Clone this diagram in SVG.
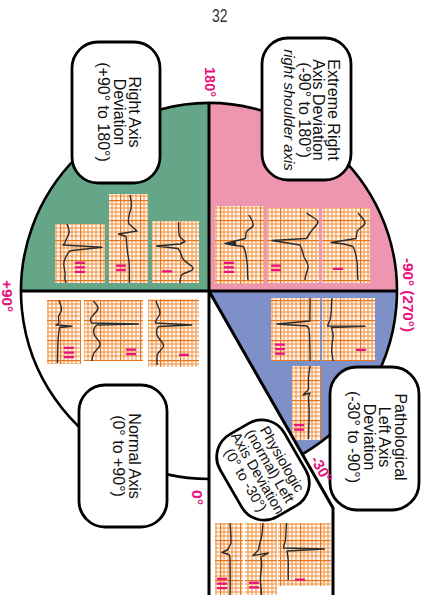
<svg xmlns="http://www.w3.org/2000/svg" width="437" height="595" viewBox="0 0 437 595">
<defs>
<pattern id="grid" width="20" height="20" patternUnits="userSpaceOnUse">
<rect width="20" height="20" fill="#fff7ef"/>
<path d="M4,0V20M8,0V20M12,0V20M16,0V20M0,4H20M0,8H20M0,12H20M0,16H20" stroke="#f0903c" stroke-width="1"/>
<path d="M0.5,0V20M0,0.5H20" stroke="#e9751a" stroke-width="1.4"/>
</pattern>
<style>
.strip{fill:url(#grid)}
.trace{fill:none;stroke:#2a2a2a;stroke-width:1.4;stroke-linejoin:round}
.lead{font-family:"Liberation Sans",Arial,sans-serif;font-weight:bold;font-size:15px;fill:#e8137e;letter-spacing:0.4px;text-anchor:middle}
.box{fill:#fff;stroke:#000;stroke-width:2.8}
.bt{font-family:"Liberation Sans",Arial,sans-serif;font-size:16px;fill:#111;text-anchor:middle}
.ang{font-family:"Liberation Sans",Arial,sans-serif;font-weight:bold;font-size:15px;fill:#e8137e}
.line{fill:none;stroke:#000;stroke-width:3}
</style>
</defs>
<rect width="437" height="595" fill="#fff"/>
<text x="212" y="21.5" font-family="'Liberation Sans',Arial,sans-serif" font-size="18" fill="#333" textLength="15.5" lengthAdjust="spacingAndGlyphs">32</text>

<g id="sectors">
<path d="M209,291 L21,291 A188,188 0 0 1 209,103 Z" fill="#65a689"/>
<path d="M209,291 L209,103 A188,188 0 0 1 397,291 Z" fill="#ee96b0"/>
<path d="M209,291 L397,291 A188,188 0 0 1 303,453.8 Z" fill="#7e90c8"/>
</g>

<g id="strips">
<g id="g1"><rect class="strip" x="55" y="224" width="50" height="59"/>
<path class="trace" d="M67,224 C68,228 70,230 69,233 C68,237 65,240 65,243 L63,245 L102,247.3 L70,250.7 C66,255 65,258 64,262 C63,267 66,272 65,276 C64,279 66,281 66,283"/>
<text class="lead" transform="translate(74.5,267.5) rotate(90)">III</text></g>
<g id="g2"><rect class="strip" x="109" y="194" width="39" height="89"/>
<path class="trace" d="M130,195 C131,200 132,204 131,208 C130,213 127,218 129,224 L137,231 L118.5,234 L126,236.5 C127,245 127,252 128.5,258 C130,266 129,275 129.5,283"/>
<text class="lead" transform="translate(115.6,268) rotate(90)">II</text></g>
<g id="g3"><rect class="strip" x="152" y="221" width="47" height="62"/>
<path class="trace" d="M178.5,222 C179,228 178,233 180,237 L185,241.5 L180,244 L156.5,246 L178,248.5 C181,252 181,255 183,259 C187,264 194,266 193,269 C192,272 183,272 181,276 C180,279 180,281 180,283"/>
<text class="lead" transform="translate(162.3,271.5) rotate(90)">I</text></g>

<g id="p1"><rect class="strip" x="215" y="206" width="49" height="78"/>
<path class="trace" d="M249,215 C251,219 254,222 253,226 C251,229 246,230 246,233 L245.5,238.5 L225,243.5 L232,245 L243,246.5 C246,250 246,256 247,262 C248,268 247,274 248,280"/>
<path d="M226,243.5 L236,241.5 L236,246 Z" fill="#2a2a2a"/>
<text class="lead" transform="translate(224.3,267.5) rotate(90)">III</text></g>
<g id="p2"><rect class="strip" x="267" y="208" width="52" height="75"/>
<path class="trace" d="M306.5,213 C310,216 318,219 318,222 C317,226 311,230 310,233 L306.5,238.5 L272,240.5 L300,245 C302,249 303,253 304,257 C306,261 309,264 308,268 C307,272 305,276 305,280"/>
<text class="lead" transform="translate(270.6,268) rotate(90)">II</text></g>
<g id="p3"><rect class="strip" x="322" y="208" width="48" height="75"/>
<path class="trace" d="M358,213 C361,217 365,220 365,223 C364,227 357,229 357,232 L356,238.5 L331,242.5 L344,244 L353,246.5 C356,252 356,257 357,262 C358,268 357,274 358,280"/>
<text class="lead" transform="translate(332.8,269) rotate(90)">I</text></g>

<g id="n1"><rect class="strip" x="47" y="300" width="34" height="64"/>
<path class="trace" d="M59,300.5 C60,304 62,307 61.5,310 C61,313 58,315 58.5,318 L59,323 L56,325 L72,326.3 L59.5,327.5 C58.5,333 58,340 57.8,348 C57.6,355 57.5,360 57.5,363"/>
<text class="lead" transform="translate(64.3,352.7) rotate(90)">III</text></g>
<g id="n2"><rect class="strip" x="84" y="300" width="59" height="61"/>
<path class="trace" d="M93.5,301 C95,304 98.5,305 98,308.5 C97,313 90,316 90.5,320 L91.5,323 L138.5,324 L97,325 C94,327 93,330 94,334 C95,338 101,341 100,345 C99,349 94,351 93,355 C92,358 92,360 92,361"/>
<text class="lead" transform="translate(125.6,352) rotate(90)">II</text></g>
<g id="n3"><rect class="strip" x="148" y="299" width="51" height="68"/>
<path class="trace" d="M156,301 C157,305 160,309 160,313 C160,317 155,319 155.5,323 L191.5,325 L158.5,326.5 C156,329 156,331 157,335 C158,339 164,342 163.5,346 C163,350 157,352 157,356 C157,359 157,362 157,365"/>
<text class="lead" transform="translate(179,355) rotate(90)">I</text></g>

<g id="b1"><rect class="strip" x="271" y="298" width="49" height="63"/>
<path class="trace" d="M310,298 C310.5,305 309.5,312 310,321 L277,324 L307,326 L309,329 C310,337 309.5,345 310,352 C310.3,356 310,359 310,361"/>
<text class="lead" transform="translate(275.1,349.3) rotate(90)">III</text></g>
<g id="b2"><rect class="strip" x="322" y="298" width="53" height="63"/>
<path class="trace" d="M332,298 C331,305 332,312 330,320 L327.5,326 L365,326.3 L331.5,327.5 C332.5,331 333.5,334 333,338 C332,344 331,349 332,354 C332.5,357 333,359 333,361"/>
<text class="lead" transform="translate(355.8,350) rotate(90)">I</text></g>
<g id="b3"><rect class="strip" x="292" y="366" width="29" height="74"/>
<path class="trace" d="M310,366 C309.5,372 308,376 308.5,381 L308.5,389.5 L303,395 L310,393 L308.5,397 C309,405 309.5,412 309,420 C308.8,428 308.5,434 308.5,439"/>
<text class="lead" transform="translate(293.5,427.5) rotate(90)">II</text></g>
</g>

<g id="connectors">
<path class="line" d="M209,103 V595"/>
<path class="line" d="M21,291 H397"/>
<path class="line" d="M209,291 L333,508 V595"/>
<path d="M209,479 A188,188 0 1 1 303,453.8" fill="none" stroke="#000" stroke-width="2.6"/>
</g>

<g id="strips-physiologic">
<g id="f1"><rect class="strip" x="215" y="523" width="28" height="72"/>
<path class="trace" d="M230,523 C230.5,530 231,537 231,543 L228,549.5 L222,552.5 L229,554.5 L230,557 C230,570 230.5,583 230,595"/>
<text class="lead" transform="translate(217,583.7) rotate(90)">III</text></g>
<g id="f2"><rect class="strip" x="245" y="523" width="32" height="72"/>
<path class="trace" d="M263,523 C262.5,528 262.5,533 261.5,537 C260.5,541 259,545 258.5,550 L253,555.5 L268.5,553 L261,557 C261.5,561 262,564 261.5,568 C261,573 260,577 260.5,582 C261,587 261.5,591 261.5,595"/>
<text class="lead" transform="translate(249.1,585.2) rotate(90)">II</text></g>
<g id="f3"><rect class="strip" x="278" y="523" width="53" height="63"/>
<path class="trace" d="M286.5,523 C286,530 286,536 285.5,540 C285,544 283,546 283.5,548 L324.5,549 L287,551 C288,556 288.5,560 288.3,565 C288.1,571 288.2,576 288.3,580"/>
<text class="lead" transform="translate(295.1,579.7) rotate(90)">I</text></g>
</g>

<g id="box-rad">
<rect class="box" x="72" y="42" width="88" height="141" rx="26"/>
<text class="bt" transform="translate(116,112) rotate(90)"><tspan x="0" y="-13">Right Axis</tspan><tspan x="0" y="2">Deviation</tspan><tspan x="0" y="18">(+90° to 180°)</tspan></text>
</g>
<g id="box-extreme">
<rect class="box" x="262" y="38" width="89" height="142" rx="26"/>
<text class="bt" transform="translate(306.5,110) rotate(90)"><tspan x="0" y="-21.8">Extreme Right</tspan><tspan x="0" y="-6.8">Axis Deviation</tspan><tspan x="0" y="7.5">(-90° to 180°)</tspan><tspan x="0" y="23" font-style="italic" font-size="15">right shoulder axis</tspan></text>
</g>
<g id="box-normal">
<rect class="box" x="79" y="385" width="88" height="142" rx="26"/>
<text class="bt" transform="translate(123,456) rotate(90)"><tspan x="0" y="-6">Normal Axis</tspan><tspan x="0" y="10">(0° to +90°)</tspan></text>
</g>
<g id="box-path">
<rect class="box" x="330" y="367" width="89" height="143" rx="27"/>
<text class="bt" transform="translate(374.5,437) rotate(90)"><tspan x="0" y="-20.5">Pathological</tspan><tspan x="0" y="-4.5">Left Axis</tspan><tspan x="0" y="10.5">Deviation</tspan><tspan x="0" y="26.5">(-30° to -90°)</tspan></text>
</g>
<g id="box-phys" transform="translate(263,470) rotate(60)">
<rect class="box" x="-47.5" y="-37" width="95" height="74" rx="26"/>
<text class="bt" style="font-size:14.5px"><tspan x="0" y="-17">Physiologic</tspan><tspan x="0" y="-3">(normal) Left</tspan><tspan x="0" y="11">Axis Deviation</tspan><tspan x="0" y="25">(0° to -30°)</tspan></text>
</g>

<g id="angle-labels">
<text class="ang" transform="translate(205,67) rotate(90)" textLength="30" lengthAdjust="spacingAndGlyphs">180°</text>
<text class="ang" transform="translate(2,280) rotate(90)" textLength="32" lengthAdjust="spacingAndGlyphs">+90°</text>
<text class="ang" transform="translate(402.5,258) rotate(90)" textLength="74" lengthAdjust="spacingAndGlyphs">-90° (270°)</text>
<text class="ang" transform="translate(192,490) rotate(90)" textLength="15" lengthAdjust="spacingAndGlyphs">0°</text>
<text class="ang" transform="translate(310,459.5) rotate(60)" textLength="28" lengthAdjust="spacingAndGlyphs">-30°</text>
</g>
</svg>
